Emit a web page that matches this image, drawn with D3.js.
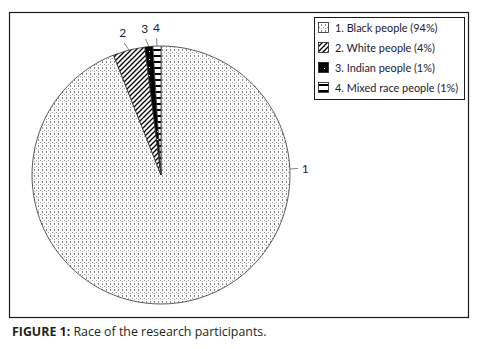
<!DOCTYPE html>
<html>
<head>
<meta charset="utf-8">
<script src="https://cdn.jsdelivr.net/npm/d3@7"></script>
<style>
  body { margin: 0; background: #fff; }
  svg { display: block; }
</style>
</head>
<body>
<div id="chart"></div>
<script>
// race of participants, shares in percent
const categories = ['Black people', 'White people', 'Indian people', 'Mixed race people']
const shares = [94, 4, 1, 1]
const labels = ['1', '2', '3', '4']
const caption = { bold: 'FIGURE 1:', rest: ' Race of the research participants.' }

const width = 477
const height = 349
const cx = 161
const cy = 175
const radius = 129

const svg = d3.select('#chart').append('svg')
  .attr('width', width)
  .attr('height', height)

const defs = svg.append('defs')

// dotted fill (black people)
const pDots = defs.append('pattern')
  .attr('id', 'p0')
  .attr('patternUnits', 'userSpaceOnUse')
  .attr('width', 4)
  .attr('height', 6)
pDots.append('rect').attr('width', 4).attr('height', 6).attr('fill', '#fff')
pDots.append('rect').attr('x', 1).attr('y', 0).attr('width', 1).attr('height', 2).attr('fill', '#8a8a8a')
pDots.append('rect').attr('x', 3).attr('y', 3).attr('width', 1).attr('height', 1).attr('fill', '#9a9a9a')
pDots.append('rect').attr('x', 1).attr('y', 4).attr('width', 1).attr('height', 1).attr('fill', '#b0b0b0')

// diagonal hatch (white people)
const pHatch = defs.append('pattern')
  .attr('id', 'p1')
  .attr('patternUnits', 'userSpaceOnUse')
  .attr('width', 5)
  .attr('height', 5)
pHatch.append('rect').attr('width', 5).attr('height', 5).attr('fill', '#fff')
pHatch.append('path')
  .attr('d', 'M-1,6 L6,-1 M-1,1 L1,-1 M4,6 L6,4')
  .attr('stroke', '#000')
  .attr('stroke-width', 1.3)

// solid black (indian people)
const pSolid = defs.append('pattern')
  .attr('id', 'p2')
  .attr('patternUnits', 'userSpaceOnUse')
  .attr('width', 8)
  .attr('height', 8)
pSolid.append('rect').attr('width', 8).attr('height', 8).attr('fill', '#000')
pSolid.append('rect').attr('x', 4).attr('y', 4).attr('width', 1).attr('height', 1).attr('fill', '#fff')

// horizontal lines (mixed race)
const pLines = defs.append('pattern')
  .attr('id', 'p3')
  .attr('patternUnits', 'userSpaceOnUse')
  .attr('width', 8)
  .attr('height', 6)
pLines.append('rect').attr('width', 8).attr('height', 6).attr('fill', '#fff')
pLines.append('rect').attr('y', 0).attr('width', 8).attr('height', 2).attr('fill', '#000')

// outer frame
svg.append('rect')
  .attr('x', 9.5)
  .attr('y', 12.5)
  .attr('width', 459)
  .attr('height', 305)
  .attr('fill', 'none')
  .attr('stroke', '#1a1a1a')
  .attr('stroke-width', 1.2)

const pie = d3.pie().sort(null).value(d => d)
const arcs = pie(shares)
const arc = d3.arc().innerRadius(0).outerRadius(radius)

const g = svg.append('g').attr('transform', `translate(${cx},${cy})`)

g.selectAll('path.slice')
  .data(arcs)
  .enter()
  .append('path')
  .attr('class', 'slice')
  .attr('d', arc)
  .attr('fill', (d, i) => `url(#p${i})`)
  .attr('stroke', '#333')
  .attr('stroke-width', 0.8)

// data labels with leader lines; slice 1 label sits to the right (best fit)
const labelAngles = arcs.map((d, i) => i === 0 ? Math.PI * 0.485 : (d.startAngle + d.endAngle) / 2)
const labelShift = [0, -0.02, -0.02, 0.0]
labelAngles.forEach((a, i) => {
  const aOut = a + labelShift[i]
  const p0 = [Math.sin(a) * radius, -Math.cos(a) * radius]
  const r1 = i === 0 ? radius + 8 : radius + 8
  const p1 = [Math.sin(aOut) * r1, -Math.cos(aOut) * r1]
  g.append('line')
    .attr('x1', p0[0]).attr('y1', p0[1])
    .attr('x2', p1[0]).attr('y2', p1[1])
    .attr('stroke', '#666')
    .attr('stroke-width', 0.8)
  const r2 = i === 0 ? radius + 12 : radius + 14
  const p2 = [Math.sin(aOut) * r2, -Math.cos(aOut) * r2]
  g.append('text')
    .attr('x', p2[0])
    .attr('y', p2[1])
    .attr('text-anchor', i === 0 ? 'start' : 'middle')
    .attr('dy', i === 0 ? '0.35em' : '0')
    .attr('font-family', 'Lato, "Open Sans", sans-serif')
    .attr('font-size', 12)
    .attr('fill', '#1b1b33')
    .text(labels[i])
})

// legend
const legend = svg.append('g')
legend.append('rect')
  .attr('x', 314.5)
  .attr('y', 17.5)
  .attr('width', 150)
  .attr('height', 82)
  .attr('fill', '#fff')
  .attr('stroke', '#1a1a1a')
  .attr('stroke-width', 1)

const rowY = d3.scalePoint().domain(d3.range(categories.length)).range([28, 88])
categories.forEach((c, i) => {
  const y = rowY(i)
  legend.append('rect')
    .attr('x', 318.5)
    .attr('y', y - 5.5)
    .attr('width', 10)
    .attr('height', 10)
    .attr('fill', `url(#p${i})`)
    .attr('stroke', '#222')
    .attr('stroke-width', 0.8)
  legend.append('text')
    .attr('x', 335)
    .attr('y', y)
    .attr('dy', '0.35em')
    .attr('font-family', 'Lato, "Open Sans", sans-serif')
    .attr('font-size', 10.9)
    .attr('fill', '#1b1b33')
    .text(`${labels[i]}. ${c} (${shares[i]}%)`)
})

// caption
const cap = svg.append('text')
  .attr('x', 12)
  .attr('y', 336)
  .attr('font-family', '"Open Sans", sans-serif')
  .attr('font-size', 12.4)
  .attr('fill', '#231f20')
cap.append('tspan').attr('font-weight', 'bold').text(caption.bold)
cap.append('tspan').text(caption.rest)
</script>
</body>
</html>
